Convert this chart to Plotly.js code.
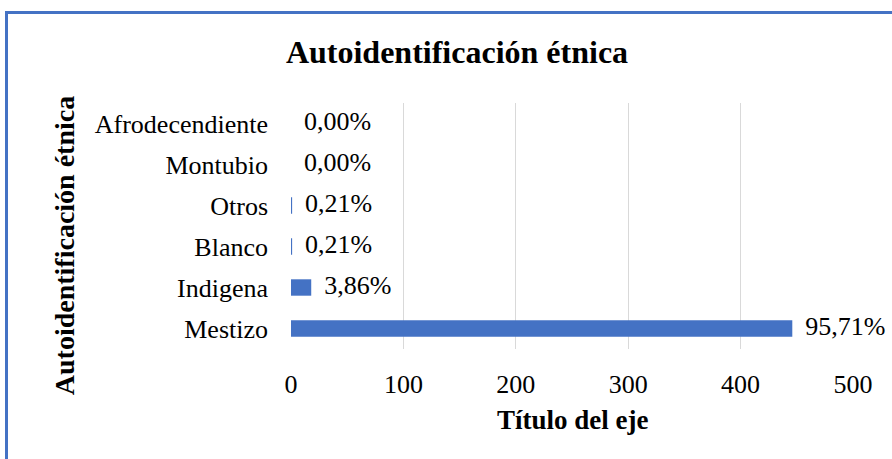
<!DOCTYPE html>
<html><head><meta charset="utf-8">
<script src="https://cdn.plot.ly/plotly-3.0.1.min.js"></script>
<style>
html,body{margin:0;padding:0;background:#fff;}
#frame{position:absolute;left:5px;top:11px;width:900px;height:460px;border-left:3px solid #4472C4;border-top:3px solid #4472C4;box-sizing:border-box;}
#chart{position:absolute;left:0;top:0;width:892px;height:459px;}
</style></head>
<body>
<div id="frame"></div>
<div id="chart"></div>
<script>
const categories = ["Mestizo","Indigena","Blanco","Otros","Montubio","Afrodecendiente"];
const counts = [446, 18, 1, 1, 0, 0];
const percentLabels = ["95,71%","3,86%","0,21%","0,21%","0,00%","0,00%"];
const xTicks = [0,100,200,300,400,500];

const font = "Liberation Serif";
const blue = "#4472C4";

const traces = [
  {type:"bar", orientation:"h", y:categories, x:counts, marker:{color:blue}, hoverinfo:"none"},
  {type:"scatter", mode:"text", y:categories, x:counts, text:percentLabels.map(t=>"\u00a0\u00a0"+t),
   textposition:"middle right", textfont:{family:font,size:26,color:"#000"}, hoverinfo:"none", cliponaxis:false}
];

const layout = {
  width:892, height:459,
  margin:{l:291, r:38.5, t:103, b:110},
  paper_bgcolor:"rgba(0,0,0,0)", plot_bgcolor:"rgba(0,0,0,0)",
  showlegend:false, bargap:0.6,
  font:{family:font, color:"#000"},
  title:{text:"<b>Autoidentificación étnica</b>", font:{family:font,size:32,color:"#000"},
         xref:"container", yref:"container", x:457/892, y:1-52/459, xanchor:"center", yanchor:"middle"},
  xaxis:{range:[0,500], tickvals:xTicks, ticktext:xTicks.map(String), showgrid:true, gridcolor:"#D9D9D9", gridwidth:1.3,
         zeroline:false, showline:false, ticks:"", tickfont:{family:font,size:26,color:"#000"}, ticklabelstandoff:17, fixedrange:true},
  yaxis:{type:"category", categoryorder:"array", categoryarray:categories, showgrid:false, zeroline:false, showline:false,
         ticks:"", tickfont:{family:font,size:26,color:"#000"}, ticklabelstandoff:22, fixedrange:true},
  annotations:[
    {text:"<b>Título del eje</b>", xref:"paper", yref:"paper", x:(573-291)/(853.5-291), y:(349-420)/246,
     showarrow:false, font:{family:font,size:27,color:"#000"}, xanchor:"center", yanchor:"middle"},
    {text:"<b>Autoidentificación étnica</b>", xref:"paper", yref:"paper", x:(64-291)/(853.5-291), y:(349-246)/246,
     textangle:-90, showarrow:false, font:{family:font,size:28,color:"#000"}, xanchor:"center", yanchor:"middle"}
  ]
};

Plotly.newPlot("chart", traces, layout, {displayModeBar:false, staticPlot:true});
</script>
</body></html>
